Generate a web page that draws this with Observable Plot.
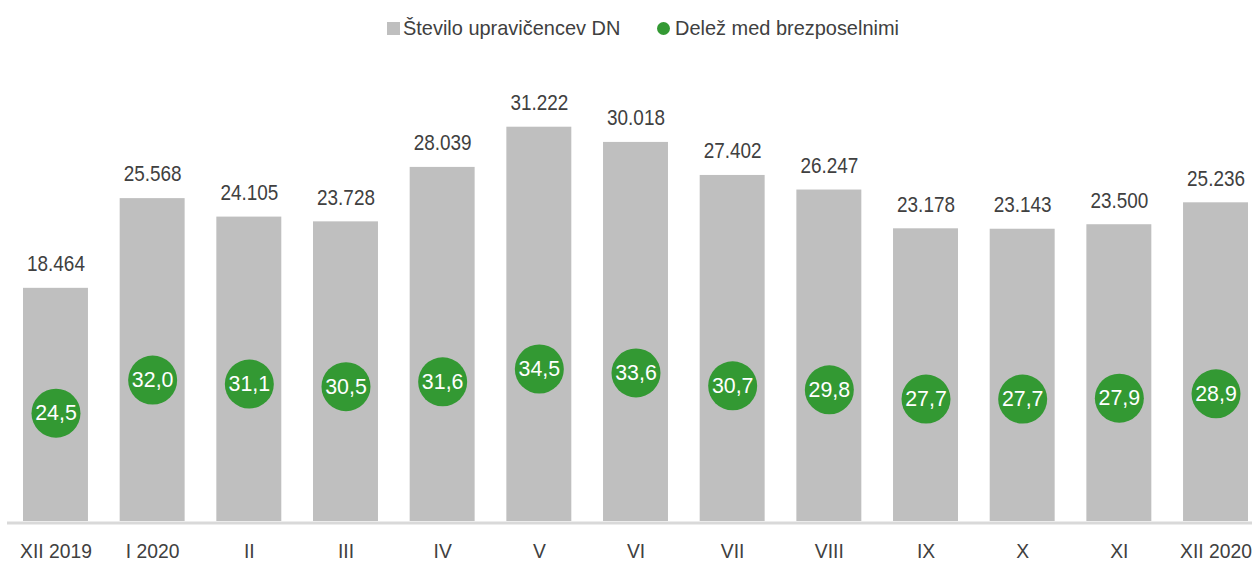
<!DOCTYPE html>
<html>
<head>
<meta charset="utf-8">
<script src="https://cdn.jsdelivr.net/npm/d3@7"></script>
<script src="https://cdn.jsdelivr.net/npm/@observablehq/plot@0.6"></script>
<style>
  body { margin: 0; background: #fff; font-family: "Liberation Sans", Arial, sans-serif; }
  #legend { position: relative; height: 50px; width: 1252px; font-size: 21px; color: #404040; }
  #legend .sw { position: absolute; width: 13px; height: 13px; top: 22px; }
  #legend .lt { position: absolute; top: 16px; line-height: 24px; white-space: nowrap; transform: scaleX(0.95); transform-origin: left center; }
  svg text { font-family: "Liberation Sans", Arial, sans-serif; }
</style>
</head>
<body>
<div id="legend">
  <span class="sw" style="left:387px;background:#bfbfbf"></span>
  <span class="lt" style="left:403px">Število upravičencev DN</span>
  <span class="sw" style="left:657px;background:#339933;border-radius:50%"></span>
  <span class="lt" style="left:675px">Delež med brezposelnimi</span>
</div>
<div id="chart"></div>
<script>
const months = ["XII 2019", "I 2020", "II", "III", "IV", "V", "VI", "VII", "VIII", "IX", "X", "XI", "XII 2020"];
const recipients = [18464, 25568, 24105, 23728, 28039, 31222, 30018, 27402, 26247, 23178, 23143, 23500, 25236];
const shares = [24.5, 32.0, 31.1, 30.5, 31.6, 34.5, 33.6, 30.7, 29.8, 27.7, 27.7, 27.9, 28.9];

const grey = "#bfbfbf", green = "#339933", textCol = "#404040";
// secondary axis 0–100 % shares the plot range with primary 0–35000
const y2 = d3.scaleLinear().domain([0, 100]).range([0, 35000]);

const data = months.map((m, i) => ({month: m, n: recipients[i], share: shares[i], shareY: y2(shares[i])}));
const fmtN = d3.formatLocale({decimal: ",", thousands: ".", grouping: [3]}).format(",d");
const fmtS = v => v.toFixed(1).replace(".", ",");

const chart = Plot.plot({
  width: 1252,
  height: 511,
  marginLeft: 23,
  marginRight: 4,
  marginTop: 29,
  marginBottom: 40,
  x: {domain: months, paddingInner: 0.328, paddingOuter: 0, round: false, label: null},
  y: {domain: [0, 35000], axis: null},
  style: {fontSize: "21px", color: textCol},
  marks: [
    Plot.barY(data, {x: "month", y: "n", fill: grey}),
    Plot.ruleY([0], {stroke: "#d9d9d9", strokeWidth: 3, dy: 1.5, insetLeft: -16, insetRight: -4}),
    Plot.text(data, {x: "month", y: "n", text: d => fmtN(d.n), dy: -24, fill: textCol, fontSize: 21.5, lineAnchor: "middle", className: "vlab"}),
    Plot.dot(data, {x: "month", y: "shareY", r: 24.5, fill: green, stroke: null}),
    Plot.text(data, {x: "month", y: "shareY", text: d => fmtS(d.share), fill: "white", fontSize: 22.5, lineAnchor: "middle", className: "clab"}),
    Plot.axisX({tickSize: 0, tickPadding: 0, dy: 30, lineAnchor: "middle", fontSize: 21, fill: textCol, label: null, className: "xlab"})
  ]
});
document.getElementById("chart").append(chart);

// slight horizontal condensing of labels (reference uses a narrow-set Arial)
function condense(sel, f) {
  chart.querySelectorAll(sel).forEach(t => {
    let tr = t.getAttribute("transform") || "";
    const xa = t.getAttribute("x");
    if (xa != null && isFinite(+xa)) {
      t.removeAttribute("x");
      tr += ` translate(${+xa},0)`;
    }
    t.setAttribute("transform", `${tr} scale(${f},1)`);
  });
}
condense(".vlab text", 0.88);
condense(".clab text", 0.95);
condense(".xlab text", 0.92);
</script>
</body>
</html>
